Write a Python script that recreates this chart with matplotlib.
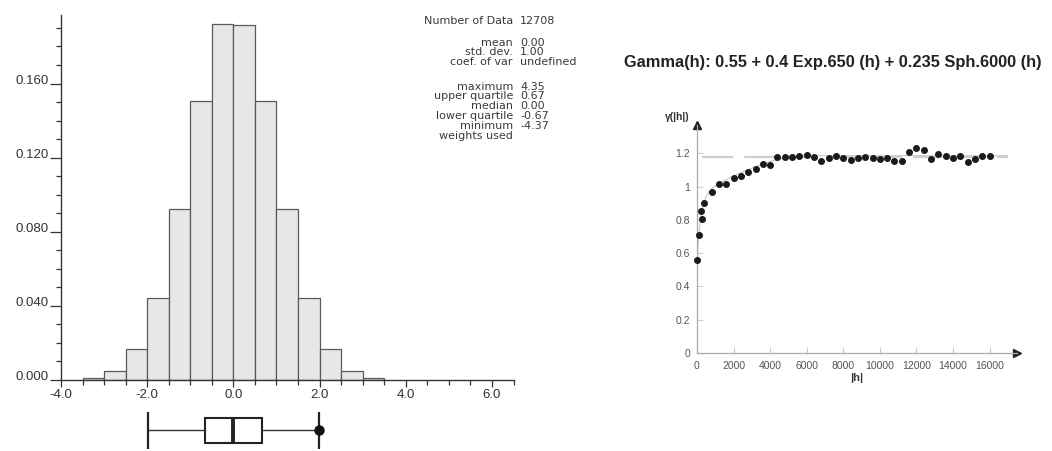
import matplotlib
matplotlib.use("Agg")
from matplotlib import pyplot as plt
import matplotlib.transforms as mtransforms
import numpy as np

plt.rcParams['font.family'] = ['Liberation Sans', 'DejaVu Sans']

# Histogram: class edges and relative frequencies
bin_edges = [-3.5, -3.0, -2.5, -2.0, -1.5, -1.0, -0.5, 0.0, 0.5, 1.0, 1.5, 2.0, 2.5, 3.0, 3.5]
frequencies = [0.0012, 0.0049, 0.0166, 0.0441, 0.0921, 0.1505, 0.1920,
               0.1918, 0.1505, 0.0921, 0.0441, 0.0166, 0.0049, 0.0012]

# Summary statistics, grouped as they are printed
stat_groups = [
    (["Number of Data"], ["12708"]),
    (["mean", "std. dev.", "coef. of var"], ["0.00", "1.00", "undefined"]),
    (["maximum", "upper quartile", "median", "lower quartile", "minimum"],
     ["4.35", "0.67", "0.00", "-0.67", "-4.37"]),
    (["weights used"], [""]),
]
group_top_y = [21, 43, 87, 137]   # pixel row of first line in each group

# Box plot values
box_lower_whisker = -1.98
box_lower_quartile = -0.67
box_median = 0.00
box_upper_quartile = 0.67
box_upper_whisker = 1.98

# Experimental variogram
lags = [20, 100, 200, 300, 400, 800, 1200, 1600, 2000, 2400, 2800, 3200, 3600, 4000,
        4400, 4800, 5200, 5600, 6000, 6400, 6800, 7200, 7600, 8000, 8400, 8800,
        9200, 9600, 10000, 10400, 10800, 11200, 11600, 12000, 12400, 12800, 13200,
        13600, 14000, 14400, 14800, 15200, 15600, 16000]
gamma = [0.559, 0.709, 0.855, 0.805, 0.900, 0.970, 1.016, 1.016, 1.054, 1.066,
         1.086, 1.104, 1.134, 1.130, 1.176, 1.176, 1.180, 1.186, 1.190, 1.176,
         1.154, 1.174, 1.186, 1.174, 1.158, 1.174, 1.180, 1.174, 1.168, 1.174,
         1.154, 1.154, 1.210, 1.230, 1.220, 1.164, 1.194, 1.184, 1.174, 1.186,
         1.150, 1.164, 1.186, 1.184]
sample_variance = 1.18

# Model: nugget + exponential + spherical
nugget = 0.55
exp_sill, exp_range = 0.4, 650
sph_sill, sph_range = 0.235, 6000


def model(h):
    h = np.asarray(h, dtype=float)
    r = np.minimum(h / sph_range, 1.0)
    sph = 1.5 * r - 0.5 * r**3
    return nugget + exp_sill * (1 - np.exp(-3 * h / exp_range)) + sph_sill * sph


W, H = 1052, 451
fig = plt.figure(figsize=(W / 100, H / 100), dpi=100)

# ---------------- histogram ----------------
ax = fig.add_axes([61 / W, (H - 380) / H, 452.5 / W, 365 / H])
widths = np.diff(bin_edges)
ax.bar(bin_edges[:-1], frequencies, width=widths, align='edge',
       color='#e6e7e9', edgecolor='#5a5a5a', linewidth=0.9)
ax.set_xlim(-4.0, 6.5)
ax.set_ylim(0, 0.197)
for s in ['top', 'right']:
    ax.spines[s].set_visible(False)
for s in ['left', 'bottom']:
    ax.spines[s].set_color('#333333')
    ax.spines[s].set_linewidth(1.0)

ax.set_xticks(np.arange(-4, 6.1, 2.0))
ax.set_xticks(np.arange(-4, 6.51, 0.5), minor=True)
ax.set_xticklabels(["%.1f" % v for v in np.arange(-4, 6.1, 2.0)])
ax.set_yticks([0.0, 0.04, 0.08, 0.12, 0.16])
ax.set_yticks(np.arange(0, 0.195, 0.01), minor=True)
ax.set_yticklabels(["0.000", "0.040", "0.080", "0.120", "0.160"])
ax.tick_params(axis='x', which='major', length=5, width=0.9, color='#333333',
               labelsize=9.5, labelcolor='#333333', pad=1.5)
ax.tick_params(axis='x', which='minor', length=3.5, width=0.9, color='#333333')
ax.tick_params(axis='y', which='major', length=8, width=0.9, color='#333333',
               labelsize=9.5, labelcolor='#333333', pad=1)
ax.tick_params(axis='y', which='minor', length=3.5, width=0.9, color='#333333')
up = mtransforms.ScaledTranslation(0, 3 / 72, fig.dpi_scale_trans)
for lab in ax.get_yticklabels():
    lab.set_transform(lab.get_transform() + up)

# statistics block
for (names, vals), y in zip(stat_groups, group_top_y):
    fig.text(513 / W, 1 - (y - 5.5) / H, "\n".join(names), ha='right', va='top',
             multialignment='right', fontsize=8, linespacing=0.97,
             family='DejaVu Sans', color='#3a3a3a')
    fig.text(520 / W, 1 - (y - 5.5) / H, "\n".join(vals), ha='left', va='top',
             fontsize=8, linespacing=0.97, family='DejaVu Sans', color='#3a3a3a')

# ---------------- box plot ----------------
bx = fig.add_axes([61 / W, 0, 452.5 / W, 40 / H])
bx.set_xlim(-4.0, 6.5)
bx.set_ylim(-20, 20)
bx.axis('off')
yc = 1
bx.plot([box_lower_whisker, box_lower_quartile], [yc, yc], color='#333333', lw=1.0)
bx.plot([box_upper_quartile, box_upper_whisker], [yc, yc], color='#333333', lw=1.0)
for xw in [box_lower_whisker, box_upper_whisker]:
    bx.plot([xw, xw], [yc - 18.5, yc + 18.5], color='#222222', lw=1.6,
            solid_capstyle='butt', clip_on=False)
bx.add_patch(plt.Rectangle((box_lower_quartile, yc - 12.5),
                           box_upper_quartile - box_lower_quartile, 25,
                           facecolor='white', edgecolor='#222222', lw=1.5))
bx.plot([box_median, box_median], [yc - 12.5, yc + 12.5], color='#222222', lw=2.8,
        solid_capstyle='butt')
bx.plot([box_upper_whisker], [yc], 'o', color='#111111', ms=6.5)

# ---------------- variogram ----------------
vx = fig.add_axes([697 / W, (H - 353) / H, 320 / W, 228 / H])
vx.set_xlim(0, 17500)
vx.set_ylim(0, 1.37)
for s in ['top', 'right']:
    vx.spines[s].set_visible(False)
for s in ['left', 'bottom']:
    vx.spines[s].set_color('#aaaaaa')
    vx.spines[s].set_linewidth(0.9)

hh = np.linspace(1, 17000, 600)
vx.plot(hh, model(hh), color='#c4c4c4', lw=0.8, zorder=1)
vx.plot([300, 17000], [sample_variance, sample_variance], color='#cfcfcf', lw=1.6,
        dashes=(14, 5), zorder=1)
vx.plot(lags, gamma, 'o', color='#1a1a1a', ms=4.0, zorder=3, clip_on=False)

vx.set_xticks(np.arange(0, 16001, 2000))
vx.set_xticklabels(["%d" % v for v in np.arange(0, 16001, 2000)])
vx.set_yticks([0, 0.2, 0.4, 0.6, 0.8, 1.0, 1.2])
vx.set_yticklabels(["0", "0.2", "0.4", "0.6", "0.8", "1", "1.2"])
vx.tick_params(axis='both', direction='in', length=4, width=0.8, color='#cccccc',
               labelsize=7.5, labelcolor='#555555')
vx.tick_params(axis='x', pad=6)
vx.tick_params(axis='y', pad=5)

# axis arrows
vx.plot(1, 0, '>', color='#222222', ms=6, transform=vx.transAxes, clip_on=False)
vx.plot(0, 1, '^', color='#222222', ms=6, transform=vx.transAxes, clip_on=False)

vx.set_xlabel('|h|', fontsize=8, color='#333333', labelpad=1, fontweight='bold')
fig.text(677 / W, 1 - 117 / H, 'γ(|h|)', ha='center', va='center', fontsize=7.5,
         color='#333333', fontweight='bold')

fig.text(833 / W, 1 - 62 / H,
         'Gamma(h): 0.55 + 0.4 Exp.650 (h) + 0.235 Sph.6000 (h)',
         ha='center', va='center', fontsize=11.8, fontweight='bold', color='#222222')

fig.savefig('out.png', dpi=100)
